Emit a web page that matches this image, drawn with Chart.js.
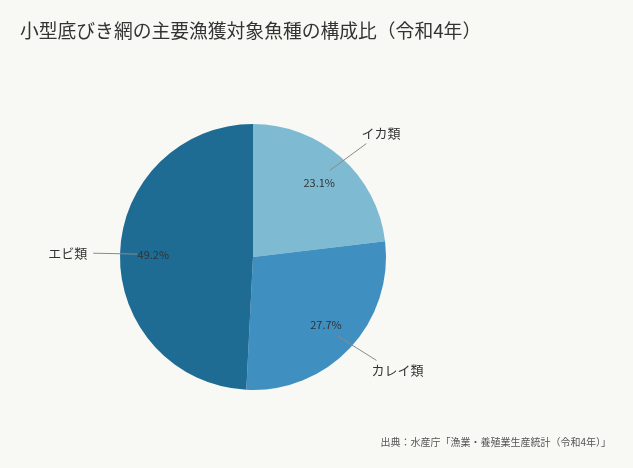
<!DOCTYPE html>
<html lang="ja">
<head>
<meta charset="utf-8">
<script src="https://cdn.jsdelivr.net/npm/chart.js@4/dist/chart.umd.min.js"></script>
<style>
  html, body { margin: 0; padding: 0; background: #f8f8f4; }
  #wrap { width: 633px; height: 468px; }
</style>
</head>
<body>
<div id="wrap"><canvas id="pie-chart" width="633" height="468"></canvas></div>
<script>
// 小型底びき網の主要漁獲対象魚種の構成比（令和4年）
const species = ["イカ類", "カレイ類", "エビ類"];
const shares = [23.1, 27.7, 49.2];
const sliceColors = ["#7fbad3", "#3f8fc1", "#1e6b93"];

const titleText = "小型底びき網の主要漁獲対象魚種の構成比（令和4年）";
const sourceText = "出典：水産庁「漁業・養殖業生産統計（令和4年）」";
const fontFamily = "'Noto Sans CJK JP', 'Noto Sans', sans-serif";

// background, title, source, labels with leader lines
const decorations = {
  id: "decorations",
  beforeDraw(chart) {
    const ctx = chart.ctx;
    ctx.save();
    ctx.fillStyle = "#f8f8f4";
    ctx.fillRect(0, 0, chart.width, chart.height);
    ctx.restore();
  },
  afterDraw(chart) {
    const ctx = chart.ctx;
    ctx.save();
    ctx.fillStyle = "#333333";
    ctx.font = "18.8px " + fontFamily;
    ctx.textBaseline = "middle";
    ctx.textAlign = "left";
    ctx.fillText(titleText, 20, 31);

    ctx.fillStyle = "#555555";
    ctx.font = "10px " + fontFamily;
    ctx.textAlign = "right";
    ctx.fillText(sourceText, 611, 442);

    const meta = chart.getDatasetMeta(0);
    meta.data.forEach((arc, i) => {
      const mid = (arc.startAngle + arc.endAngle) / 2;
      const r = arc.outerRadius;
      const cx = arc.x, cy = arc.y;
      const dx = Math.cos(mid), dy = Math.sin(mid);
      const side = dx >= 0 ? 1 : -1;

      const x0 = cx + dx * r * 0.87, y0 = cy + dy * r * 0.87;
      const x1 = cx + dx * r * 1.2 + side * 10 * Math.abs(dy);
      const y1 = cy + dy * r * 1.14;

      ctx.strokeStyle = "#8a8a8a";
      ctx.lineWidth = 1;
      ctx.beginPath();
      ctx.moveTo(x0, y0);
      ctx.lineTo(x1, y1);
      ctx.stroke();

      ctx.fillStyle = "#333333";
      ctx.textAlign = "center";
      ctx.font = "11px " + fontFamily;
      ctx.fillText(shares[i].toFixed(1) + "%", cx + dx * r * 0.75, cy + dy * r * 0.75);

      ctx.font = "13px " + fontFamily;
      if (side > 0) {
        ctx.textAlign = "left";
        ctx.fillText(species[i], x1 - 5, y1 + dy * 14);
      } else {
        ctx.textAlign = "right";
        ctx.fillText(species[i], x1 - 6, y1);
      }
    });
    ctx.restore();
  }
};

const pieCtx = document.getElementById("pie-chart").getContext("2d");
new Chart(pieCtx, {
  type: "pie",
  data: {
    labels: species,
    datasets: [{
      data: shares,
      backgroundColor: sliceColors,
      borderWidth: 0,
    }],
  },
  options: {
    responsive: false,
    animation: false,
    layout: {
      padding: { top: 124, bottom: 78, left: 20, right: 147 },
    },
    plugins: {
      legend: { display: false },
      tooltip: { enabled: false },
    },
  },
  plugins: [decorations],
});
</script>
</body>
</html>
